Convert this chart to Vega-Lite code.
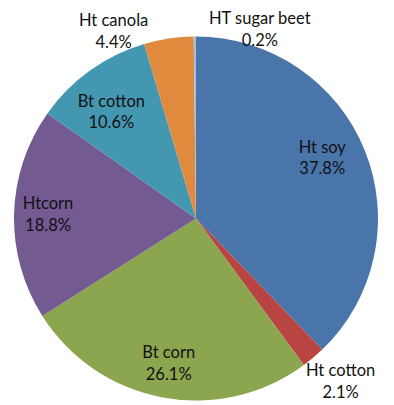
{
  "$schema": "https://vega.github.io/schema/vega-lite/v6.json",
  "width": 392,
  "height": 373,
  "autosize": {"type": "none"},
  "padding": {"left": 0, "top": 32, "right": 2, "bottom": 0},
  "background": "white",
  "data": {"values": [
    {"idx": 1, "name": "Ht soy", "value": 37.8},
    {"idx": 2, "name": "Ht cotton", "value": 2.1},
    {"idx": 3, "name": "Bt corn", "value": 26.1},
    {"idx": 4, "name": "Htcorn", "value": 18.8},
    {"idx": 5, "name": "Bt cotton", "value": 10.6},
    {"idx": 6, "name": "Ht canola", "value": 4.4},
    {"idx": 7, "name": "HT sugar beet", "value": 0.2}
  ]},
  "transform": [
    {"calculate": "datum.name + '\\n' + format(datum.value, '.1f') + '%'", "as": "label"}
  ],
  "encoding": {
    "theta": {"field": "value", "type": "quantitative", "stack": true},
    "order": {"field": "idx", "type": "quantitative"}
  },
  "layer": [
    {
      "mark": {"type": "arc", "outerRadius": 182},
      "encoding": {
        "color": {
          "field": "name", "type": "nominal", "legend": null,
          "scale": {
            "domain": ["Ht soy", "Ht cotton", "Bt corn", "Htcorn", "Bt cotton", "Ht canola", "HT sugar beet"],
            "range": ["#4a75aa", "#b84542", "#8ba64f", "#735a91", "#4497b0", "#e08a3d", "#a9bcd8"]
          }
        }
      }
    },
    {
      "mark": {"type": "text", "radius": 148, "dx": -11, "dy": -15, "font": "Lato", "fontSize": 16.5, "lineBreak": "\n", "lineHeight": 21, "color": "#111111", "baseline": "middle"},
      "encoding": {"text": {"condition": {"test": "datum.idx == 1", "field": "label"}, "value": ""}}
    },
    {
      "mark": {"type": "text", "radius": 148, "dy": -11, "font": "Lato", "fontSize": 16.5, "lineBreak": "\n", "lineHeight": 22, "color": "#111111", "baseline": "middle"},
      "encoding": {"text": {"condition": {"test": "datum.idx == 3 || datum.idx == 4", "field": "label"}, "value": ""}}
    },
    {
      "mark": {"type": "text", "radius": 135, "dx": -6, "dy": -7, "font": "Lato", "fontSize": 16.5, "lineBreak": "\n", "lineHeight": 21, "color": "#111111", "baseline": "middle"},
      "encoding": {"text": {"condition": {"test": "datum.idx == 5", "field": "label"}, "value": ""}}
    },
    {
      "mark": {"type": "text", "radius": 215, "dx": 6, "dy": -12, "font": "Lato", "fontSize": 16.5, "lineBreak": "\n", "lineHeight": 22, "color": "#111111", "baseline": "middle"},
      "encoding": {"text": {"condition": {"test": "datum.idx == 2", "field": "label"}, "value": ""}}
    },
    {
      "mark": {"type": "text", "radius": 189, "dx": -54, "dy": -11, "font": "Lato", "fontSize": 16.5, "lineBreak": "\n", "lineHeight": 22, "color": "#111111", "baseline": "middle"},
      "encoding": {"text": {"condition": {"test": "datum.idx == 6", "field": "label"}, "value": ""}}
    },
    {
      "mark": {"type": "text", "radius": 189, "dx": 65, "dy": -11, "font": "Lato", "fontSize": 16.5, "lineBreak": "\n", "lineHeight": 22, "color": "#111111", "baseline": "middle"},
      "encoding": {"text": {"condition": {"test": "datum.idx == 7", "field": "label"}, "value": ""}}
    }
  ]
}
